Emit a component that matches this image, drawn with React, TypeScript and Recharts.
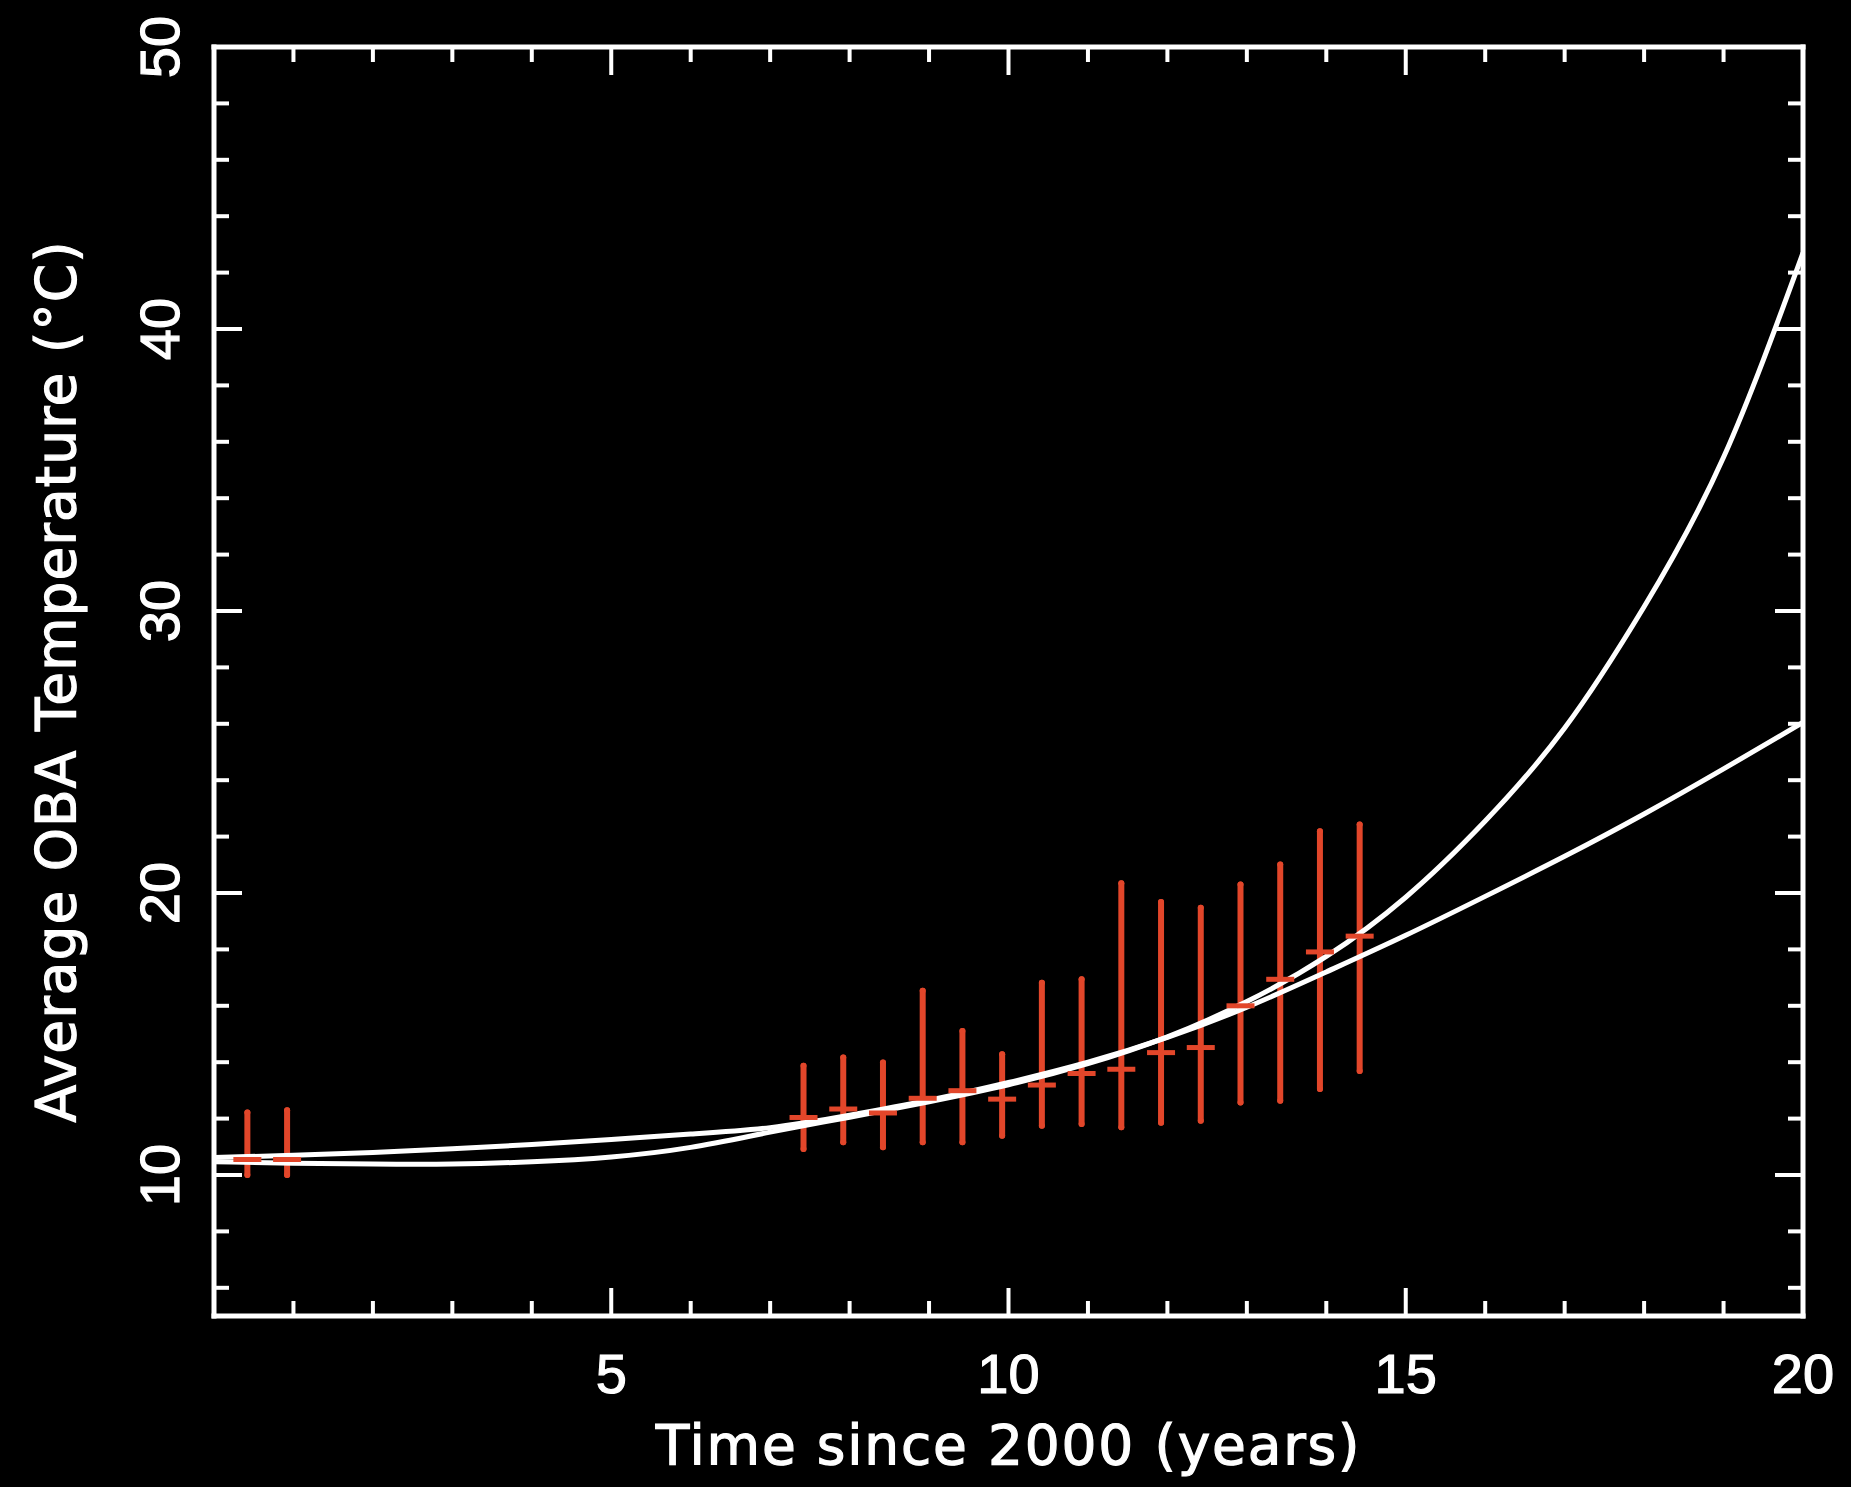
import { ComposedChart, Line, Scatter, ErrorBar, XAxis, YAxis, Label } from 'recharts';

// fitted curves, sampled once per year
const fitYears = [0, 1, 2, 3, 4, 5, 6, 7, 8, 9, 10, 11, 12, 13, 14, 15, 16, 17, 18, 19, 20];
const steepFit = [10.47, 10.42, 10.39, 10.39, 10.47, 10.64, 10.98, 11.52, 12.05, 12.6, 13.2, 13.95, 14.9, 16.15, 17.75, 19.85, 22.55, 25.85, 30.15, 35.45, 42.7];
const gentleFit = [10.62, 10.7, 10.8, 10.93, 11.08, 11.26, 11.45, 11.68, 12.12, 12.65, 13.28, 14.0, 14.88, 15.95, 17.2, 18.5, 19.88, 21.3, 22.8, 24.4, 26.05];

// measured averages with min / max range
const obsYears = [0.42, 0.92, 7.42, 7.92, 8.42, 8.92, 9.42, 9.92, 10.42, 10.92, 11.42, 11.92, 12.42, 12.92, 13.42, 13.92, 14.42];
const obsMean = [10.55, 10.55, 12.04, 12.34, 12.2, 12.72, 12.99, 12.69, 13.19, 13.6, 13.75, 14.34, 14.52, 16.0, 16.94, 17.91, 18.47];
const obsLow = [10.0, 10.0, 10.92, 11.16, 10.98, 11.16, 11.16, 11.39, 11.75, 11.81, 11.69, 11.85, 11.92, 12.57, 12.63, 13.05, 13.69];
const obsHigh = [12.22, 12.3, 13.87, 14.17, 13.99, 16.53, 15.11, 14.28, 16.82, 16.94, 20.35, 19.68, 19.48, 20.3, 21.01, 22.19, 22.43];

const xTicks = [0, 1, 2, 3, 4, 5, 6, 7, 8, 9, 10, 11, 12, 13, 14, 15, 16, 17, 18, 19, 20];
const xLabels = [5, 10, 15, 20];
const yTicks = [6, 8, 10, 12, 14, 16, 18, 20, 22, 24, 26, 28, 30, 32, 34, 36, 38, 40, 42, 44, 46, 48, 50];
const yLabels = [10, 20, 30, 40, 50];

const WHITE = '#ffffff';
const RED = '#e2462a';
const TICK_FONT = '"Liberation Sans", Arial, sans-serif';
const TITLE_FONT = '"DejaVu Sans", sans-serif';
const MAJOR = 28;
const MINOR = 15;

const steepRows = fitYears.map((x, i) => ({ x, temp: steepFit[i] }));
const gentleRows = fitYears.map((x, i) => ({ x, temp: gentleFit[i] }));
const obsRows = obsYears.map((x, i) => ({
  x,
  temp: obsMean[i],
  range: [obsMean[i] - obsLow[i], obsHigh[i] - obsMean[i]],
}));

const axisLine = { stroke: WHITE, strokeWidth: 5, strokeLinecap: 'square' as const };

const BottomTick = ({ x, y, payload }: any) => {
  const major = xLabels.includes(payload.value);
  return (
    <g>
      <line x1={x} x2={x} y1={y} y2={y - (major ? MAJOR : MINOR)} stroke={WHITE} strokeWidth={4} />
      {major && (
        <text
          x={x}
          y={y + 77}
          textAnchor='middle'
          fill={WHITE}
          stroke={WHITE}
          strokeWidth={1.2}
          fontSize={56}
          fontFamily={TICK_FONT}
        >
          {payload.value}
        </text>
      )}
    </g>
  );
};

const TopTick = ({ x, y, payload }: any) => {
  const major = xLabels.includes(payload.value);
  return <line x1={x} x2={x} y1={y} y2={y + (major ? MAJOR : MINOR)} stroke={WHITE} strokeWidth={4} />;
};

const LeftTick = ({ x, y, payload }: any) => {
  const major = yLabels.includes(payload.value);
  const lx = x - 35;
  return (
    <g>
      <line x1={x} x2={x + (major ? MAJOR : MINOR)} y1={y} y2={y} stroke={WHITE} strokeWidth={4} />
      {major && (
        <text
          x={lx}
          y={y}
          transform={`rotate(-90 ${lx} ${y})`}
          textAnchor='middle'
          fill={WHITE}
          stroke={WHITE}
          strokeWidth={1.2}
          fontSize={56}
          fontFamily={TICK_FONT}
        >
          {payload.value}
        </text>
      )}
    </g>
  );
};

const RightTick = ({ x, y, payload }: any) => {
  const major = yLabels.includes(payload.value);
  return <line x1={x} x2={x - (major ? MAJOR : MINOR)} y1={y} y2={y} stroke={WHITE} strokeWidth={4} />;
};

const XTitle = ({ viewBox }: any) => (
  <text
    x={viewBox.x + viewBox.width / 2}
    y={viewBox.y + 148}
    textAnchor='middle'
    fill={WHITE}
    stroke={WHITE}
    strokeWidth={1.2}
    fontSize={55}
    letterSpacing={1.8}
    fontFamily={TITLE_FONT}
  >
    Time since 2000 (years)
  </text>
);

const YTitle = ({ viewBox }: any) => {
  const cx = viewBox.x + viewBox.width - 139;
  const cy = viewBox.y + viewBox.height / 2;
  return (
    <text
      x={cx}
      y={cy}
      transform={`rotate(-90 ${cx} ${cy})`}
      textAnchor='middle'
      fill={WHITE}
      stroke={WHITE}
      strokeWidth={1.2}
      fontSize={55}
      letterSpacing={1}
      fontFamily={TITLE_FONT}
    >
      Average OBA Temperature (°C)
    </text>
  );
};

const CenterDash = ({ cx, cy }: any) => (
  <line x1={cx - 14} x2={cx + 14} y1={cy} y2={cy} stroke={RED} strokeWidth={5} />
);

const App = () => {
  return (
    <div style={{ position: 'fixed', left: 0, top: 0, width: 1851, height: 1487, background: '#000' }}>
      <ComposedChart width={1851} height={1487} margin={{ top: 46, right: 47, bottom: 170, left: 213 }}>
        <XAxis
          dataKey='x'
          type='number'
          domain={[0, 20]}
          allowDataOverflow
          ticks={xTicks}
          interval={0}
          height={1}
          tickSize={0}
          tickMargin={0}
          tickLine={false}
          axisLine={axisLine}
          tick={BottomTick}
        >
          <Label content={XTitle} />
        </XAxis>
        <XAxis
          xAxisId='top'
          orientation='top'
          dataKey='x'
          type='number'
          domain={[0, 20]}
          allowDataOverflow
          ticks={xTicks}
          interval={0}
          height={1}
          tickSize={0}
          tickMargin={0}
          tickLine={false}
          axisLine={axisLine}
          tick={TopTick}
        />
        <YAxis
          type='number'
          domain={[5, 50]}
          allowDataOverflow
          ticks={yTicks}
          interval={0}
          width={1}
          tickSize={0}
          tickMargin={0}
          tickLine={false}
          axisLine={axisLine}
          tick={LeftTick}
        >
          <Label content={YTitle} />
        </YAxis>
        <YAxis
          yAxisId='right'
          orientation='right'
          type='number'
          domain={[5, 50]}
          allowDataOverflow
          ticks={yTicks}
          interval={0}
          width={1}
          tickSize={0}
          tickMargin={0}
          tickLine={false}
          axisLine={axisLine}
          tick={RightTick}
        />
        <Scatter data={obsRows} dataKey='temp' shape={CenterDash} isAnimationActive={false}>
          <ErrorBar
            dataKey='range'
            direction='y'
            width={0}
            stroke={RED}
            strokeWidth={6}
            strokeLinecap='round'
            isAnimationActive={false}
          />
        </Scatter>
        <Line
          data={gentleRows}
          dataKey='temp'
          type='natural'
          stroke={WHITE}
          strokeWidth={5}
          dot={false}
          activeDot={false}
          isAnimationActive={false}
        />
        <Line
          data={steepRows}
          dataKey='temp'
          type='natural'
          stroke={WHITE}
          strokeWidth={5}
          dot={false}
          activeDot={false}
          isAnimationActive={false}
        />
      </ComposedChart>
    </div>
  );
};

export default App;
